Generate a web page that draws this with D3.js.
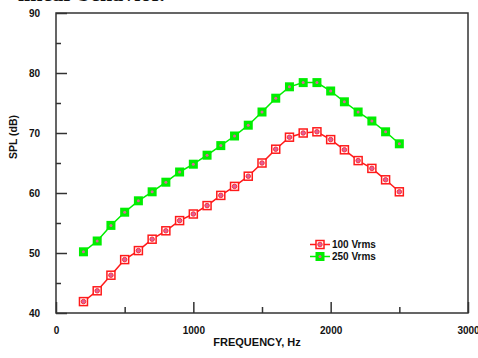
<!DOCTYPE html>
<html><head><meta charset="utf-8">
<script src="https://cdn.jsdelivr.net/npm/d3@7"></script>
<style>body{margin:0;background:#fff;overflow:hidden}svg{display:block}</style>
</head><body>
<svg id="c" width="478" height="358"></svg>
<script>
const frequency = [200,300,400,500,600,700,800,900,1000,1100,1200,1300,1400,1500,1600,1700,1800,1900,2000,2100,2200,2300,2400,2500];
const spl100 = [41.9,43.7,46.3,48.9,50.4,52.3,53.7,55.4,56.5,57.9,59.6,61.1,62.8,65.0,67.3,69.3,70.0,70.2,68.9,67.2,65.4,64.1,62.2,60.2];
const spl250 = [50.2,52.0,54.6,56.8,58.7,60.2,61.8,63.5,64.8,66.3,67.9,69.5,71.3,73.5,75.8,77.7,78.4,78.4,77.0,75.2,73.5,72.0,70.2,68.2];
const seriesNames = ["100 Vrms","250 Vrms"];
const xTicks = [0,1000,2000,3000];
const xMinor = [500,1500,2500];
const yTicks = [40,50,60,70,80,90];
const yMinor = [45,55,65,75,85];

const svg = d3.select("#c");
const L=56,R=468,T=13,B=313;
const x = d3.scaleLinear().domain([0,3000]).range([L,R]);
const y = d3.scaleLinear().domain([40,90]).range([B,T]);
const axisCol="#333";
const font="Liberation Sans, Arial, sans-serif";

// clipped heading text at top
svg.append("text").attr("x",18).attr("y",1).attr("font-family","Liberation Serif, Times New Roman, serif")
  .attr("font-weight","bold").attr("font-size",22).attr("fill","#111").text("linear behavior.");

// frame
svg.append("rect").attr("x",L).attr("y",T).attr("width",R-L).attr("height",B-T)
  .attr("fill","none").attr("stroke",axisCol).attr("stroke-width",1.5);

// x ticks (inward, upward)
const xa = d3.axisBottom(x).tickValues(xTicks).tickSize(-11).tickFormat(d3.format("d")).tickPadding(14);
const gx = svg.append("g").attr("transform",`translate(0,${B})`).call(xa);
const xm = d3.axisBottom(x).tickValues(xMinor).tickSize(-6).tickFormat("");
const gxm = svg.append("g").attr("transform",`translate(0,${B})`).call(xm);
// y ticks (inward, rightward)
const ya = d3.axisLeft(y).tickValues(yTicks).tickSize(-11).tickFormat(d3.format("d")).tickPadding(16);
const gy = svg.append("g").attr("transform",`translate(${L},0)`).call(ya);
const ym = d3.axisLeft(y).tickValues(yMinor).tickSize(-5).tickFormat("");
const gym = svg.append("g").attr("transform",`translate(${L},0)`).call(ym);
[gx,gxm,gy,gym].forEach(g=>{
  g.select(".domain").remove();
  g.selectAll(".tick line").attr("stroke",axisCol).attr("stroke-width",1.5);
  g.selectAll(".tick text").attr("font-family",font).attr("font-weight","bold").attr("font-size",10).attr("fill","#111");
});
gx.selectAll(".tick text").attr("dy","0.71em");

// axis labels
svg.append("text").attr("x",257).attr("y",346).attr("text-anchor","middle")
  .attr("font-family",font).attr("font-weight","bold").attr("font-size",11).attr("fill","#111").text("FREQUENCY, Hz");
svg.append("text").attr("transform","translate(17,137) rotate(-90)").attr("text-anchor","middle")
  .attr("font-family",font).attr("font-weight","bold").attr("font-size",10.5).attr("fill","#111").text("SPL (dB)");

const red="#ff1a1a", green="#00ee00", pink="#e0609a";
const line = d3.line().x(d=>x(d[0])).y(d=>y(d[1]));
const d100 = frequency.map((f,i)=>[f,spl100[i]]);
const d250 = frequency.map((f,i)=>[f,spl250[i]]);

svg.append("path").datum(d250).attr("d",line).attr("fill","none").attr("stroke",green).attr("stroke-width",1.5);
svg.append("path").datum(d100).attr("d",line).attr("fill","none").attr("stroke",red).attr("stroke-width",1.5);

function redMarker(g,cx,cy){
  g.append("rect").attr("x",cx-4).attr("y",cy-4).attr("width",8).attr("height",8)
   .attr("fill","#fff").attr("stroke",red).attr("stroke-width",1.5);
  g.append("circle").attr("cx",cx).attr("cy",cy).attr("r",2.3).attr("fill",pink).attr("stroke",red).attr("stroke-width",0.8);
}
function greenMarker(g,cx,cy){
  g.append("rect").attr("x",cx-4.5).attr("y",cy-4.5).attr("width",9).attr("height",9).attr("fill",green);
  g.append("circle").attr("cx",cx).attr("cy",cy).attr("r",1.5).attr("fill",pink);
}
const gm = svg.append("g");
d250.forEach(d=>greenMarker(gm,x(d[0]),y(d[1])));
d100.forEach(d=>redMarker(gm,x(d[0]),y(d[1])));

// legend
const lg = svg.append("g");
[[red,redMarker,244.5],[green,greenMarker,256.5]].forEach((c,i)=>{
  lg.append("line").attr("x1",310).attr("x2",330).attr("y1",c[2]).attr("y2",c[2]).attr("stroke",c[0]).attr("stroke-width",1.5);
  c[1](lg,320,c[2]);
  lg.append("text").attr("x",332).attr("y",c[2]).attr("dy","0.35em").attr("font-family",font)
    .attr("font-weight","bold").attr("font-size",10).attr("fill","#111").text(seriesNames[i]);
});
</script>
</body></html>
